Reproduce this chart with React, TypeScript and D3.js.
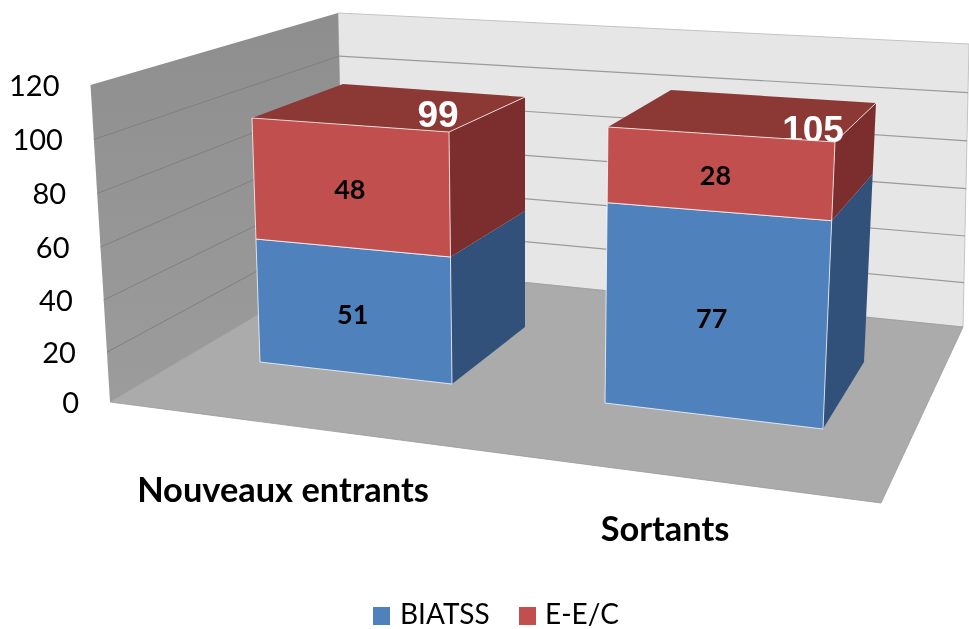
import React from "react";
import * as d3 from "d3";

// ---- data ----
const categories = ["Nouveaux entrants", "Sortants"];
const biatss = [51, 77];
const eec = [48, 28];
const totals = [99, 105];
const yTicks = [0, 20, 40, 60, 80, 100, 120];
const legendNames = ["BIATSS", "E-E/C"];

// ---- layout ----
const W = 969, H = 629;
const FONT = "Lato, 'Open Sans', sans-serif";
const PERSPECTIVE = 1.033; // slight foreshortening of the vertical axis
type P = [number, number];
// value -> screen point along one projected vertical edge of the 3D box
const edge = (a: P, b: P, max: number) => {
  const t = d3.scalePow().exponent(PERSPECTIVE).domain([0, max]).range([0, 1]);
  const sx = d3.scaleLinear().domain([0, 1]).range([a[0], b[0]]);
  const sy = d3.scaleLinear().domain([0, 1]).range([a[1], b[1]]);
  return (v: number): P => [sx(t(v)), sy(t(v))];
};
const poly = (pts: P[]) => d3.line()(pts) + "Z";
const seg = (a: P, b: P) => d3.line()([a, b]) ?? "";

const wallFront = edge([110, 402], [90.5, 85], 120);
const wallBack = edge([344, 264], [338, 13], 120);
const wallRight = edge([963, 327], [969, 44], 120);
const floorFrontRight: P = [881, 503];

const barEdges = [
  {
    fl: edge([260, 362], [252, 118], totals[0]),
    fr: edge([452, 384], [449, 132], totals[0]),
    br: edge([525, 327], [525, 97], totals[0]),
    blTop: [343, 84] as P,
    labelDx: -2,
    totalAt: [438, 127] as P,
  },
  {
    fl: edge([605, 403], [608, 127], totals[1]),
    fr: edge([823, 429], [835, 142], totals[1]),
    br: edge([864, 362], [876, 103], totals[1]),
    blTop: [671, 90] as P,
    labelDx: -5,
    totalAt: [813, 142] as P,
  },
];
const catLabelPos: P[] = [[283, 502], [665, 541]];

const colors = {
  blue: { front: "#4f81bd", side: "#30517a" },
  red: { front: "#c0504d", side: "#7b2f2e", top: "#8c3836" },
};

export default function App() {
  return (
    <svg
      width={W}
      height={H}
      viewBox={`0 0 ${W} ${H}`}
      style={{ position: "absolute", left: 0, top: 0, background: "#fff" }}
      fontFamily={FONT}
    >
      <defs>
        <linearGradient id="wallG" x1="0" y1="0" x2="0" y2="1">
          <stop offset="0" stopColor="#8e8e8e" />
          <stop offset="1" stopColor="#9c9c9c" />
        </linearGradient>
        <filter id="soft" x="-5%" y="-5%" width="110%" height="110%">
          <feGaussianBlur stdDeviation="0.45" />
        </filter>
      </defs>

      <g filter="url(#soft)">
        {/* back wall */}
        <path d={poly([wallBack(0), wallBack(120), wallRight(120), wallRight(0)])} fill="#e6e6e6" stroke="#c4c4c4" strokeWidth={1} />
        {yTicks.slice(1, -1).map((t) => (
          <path key={t} d={seg(wallBack(t), wallRight(t))} stroke="#9a9a9a" strokeWidth={1.2} fill="none" />
        ))}
        {/* left wall */}
        <path d={poly([wallFront(0), wallFront(120), wallBack(120), wallBack(0)])} fill="url(#wallG)" />
        {yTicks.slice(1, -1).map((t) => (
          <path key={t} d={seg(wallFront(t), wallBack(t))} stroke="#808080" strokeWidth={1} fill="none" />
        ))}
        {/* floor */}
        <path d={poly([wallFront(0), wallBack(0), wallRight(0), floorFrontRight])} fill="#ababab" stroke="#9a9a9a" strokeWidth={0.8} />

        {/* bars */}
        {categories.map((c, i) => {
          const b = barEdges[i];
          const v0 = biatss[i];
          const v1 = totals[i];
          const lineCol = "rgba(255,255,255,0.75)";
          return (
            <g key={c}>
              <path d={poly([b.fr(0), b.fr(v0), b.br(v0), b.br(0)])} fill={colors.blue.side} />
              <path d={poly([b.fr(v0), b.fr(v1), b.br(v1), b.br(v0)])} fill={colors.red.side} />
              <path d={poly([b.fl(v1), b.blTop, b.br(v1), b.fr(v1)])} fill={colors.red.top} />
              <text x={b.totalAt[0]} y={b.totalAt[1]} textAnchor="middle" fontSize={37} fontWeight={700} fill="#fff" fontFamily="'Liberation Sans', sans-serif">
                {totals[i]}
              </text>
              <path d={poly([b.fl(0), b.fl(v0), b.fr(v0), b.fr(0)])} fill={colors.blue.front} stroke={lineCol} strokeWidth={1} />
              <path d={poly([b.fl(v0), b.fl(v1), b.fr(v1), b.fr(v0)])} fill={colors.red.front} stroke={lineCol} strokeWidth={1} />
              <path d={seg(b.fr(v1), b.br(v1))} stroke={lineCol} strokeWidth={1} fill="none" />
            </g>
          );
        })}

        {/* value labels */}
        {categories.map((c, i) => {
          const b = barEdges[i];
          const mid = (v: number): P => {
            const l = b.fl(v), r = b.fr(v);
            return [(l[0] + r[0]) / 2 + b.labelDx, (l[1] + r[1]) / 2];
          };
          const pa = mid(biatss[i] / 2);
          const pb = mid(biatss[i] + eec[i] / 2);
          return (
            <g key={c} textAnchor="middle" fontSize={27} fontWeight={700} fill="#000">
              <text x={pa[0]} y={pa[1] + 12}>{biatss[i]}</text>
              <text x={pb[0]} y={pb[1] + 12}>{eec[i]}</text>
            </g>
          );
        })}

        {/* y axis labels */}
        {yTicks.map((t) => {
          const p = wallFront(t);
          return (
            <text key={t} x={p[0] - 31} y={p[1] + 11} textAnchor="end" fontSize={29} fill="#000">
              {t}
            </text>
          );
        })}

        {/* category labels */}
        {categories.map((c, i) => (
          <text key={c} x={catLabelPos[i][0]} y={catLabelPos[i][1]} textAnchor="middle" fontSize={34.4} fontWeight={700} fill="#000">
            {c}
          </text>
        ))}

        {/* legend */}
        <rect x={373} y={607} width={17} height={18} fill={colors.blue.front} />
        <text x={400} y={624} fontSize={28} fill="#000">{legendNames[0]}</text>
        <rect x={519} y={607} width={17} height={18} fill={colors.red.front} />
        <text x={545} y={624} fontSize={28} fill="#000">{legendNames[1]}</text>
      </g>
    </svg>
  );
}
